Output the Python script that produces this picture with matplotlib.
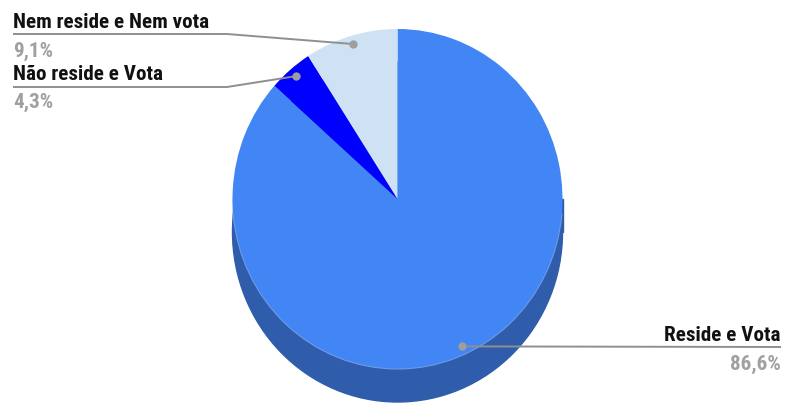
import numpy as np
import matplotlib.pyplot as plt
from matplotlib import font_manager
from matplotlib.patches import Ellipse, Rectangle, Arc

# --------------- data ---------------
labels = ['Reside e Vota', 'Não reside e Vota', 'Nem reside e Nem vota']
values = [86.6, 4.3, 9.1]
pct_labels = ['86,6%', '4,3%', '9,1%']
colors = ['#4285f4', '#0000ff', '#cfe2f3']
side_color = '#2f5dab'

# --------------- layout (pixels) ---------------
W, H = 786, 406
cx, cy = 397.5, 200.0     # centre of the top face
rx, ry = 165.0, 170.0     # radii of the top face
depth = 33.0              # thickness of the 3d side

# pick a narrow bold face if one is around
have = {f.name for f in font_manager.fontManager.ttflist}
fam = [f for f in ['Liberation Sans Narrow', 'Roboto Condensed', 'Roboto']
       if f in have] + ['DejaVu Sans']

fig = plt.figure(figsize=(W / 100, H / 100), dpi=100)

# pie axes: 1 data unit = rx px horizontally, ry px vertically
ax = fig.add_axes([0, 0, 1, 1])
ax.pie(values, colors=colors, startangle=90, counterclock=False,
       radius=1, center=(0, 0), wedgeprops=dict(linewidth=0))
ax.set_aspect('auto')
ax.set_xlim(-cx / rx, (W - cx) / rx)
ax.set_ylim(-(H - cy) / ry, cy / ry)
ax.axis('off')

d = depth / ry
ax.add_patch(Ellipse((0, -d), 2, 2, color=side_color, zorder=0))
ax.add_patch(Rectangle((-1, -d), 2, d, color=side_color, zorder=0))
ax.add_patch(Arc((0, 0), 2, 2, theta1=185, theta2=355, color='#6f9ae6',
                 lw=0.8, zorder=3))

# overlay in pixel coords for labels / leaders
lab = fig.add_axes([0, 0, 1, 1])
lab.set_xlim(0, W)
lab.set_ylim(H, 0)
lab.axis('off')
lab.patch.set_alpha(0)

# dot positions: mid angle of each wedge at 0.95 radius
frac = np.array(values) / sum(values)
ends = 90 - 360 * np.cumsum(frac)
starts = ends + 360 * frac
mids = np.radians((starts + ends) / 2)
dots = [(cx + 0.95 * rx * np.cos(a), cy - 0.95 * ry * np.sin(a)) for a in mids]

line_c = '#8f8f8f'
pct_c = '#a0a0a0'
fs = 13.8 if fam[0] == 'Roboto' else 15.2

# label positions: (x, baseline of label, line y, baseline of pct, align)
pos = [
    (781, 341, 348, 370, 'right'),
    (13, 80, 88, 108, 'left'),
    (13, 28, 35, 57, 'left'),
]

for i, (x, yb, yl, yp, ha) in enumerate(pos):
    dx, dy = dots[i]
    lab.text(x, yb, labels[i], ha=ha, va='baseline', fontsize=fs,
             fontweight='bold', color='#111111', family=fam)
    lab.text(x, yp, pct_labels[i], ha=ha, va='baseline', fontsize=fs,
             fontweight='bold', color=pct_c, family=fam)
    if ha == 'left':
        lab.plot([x, 227, dx], [yl, yl, dy], color=line_c, lw=1.4,
                 solid_capstyle='butt')
    else:
        lab.plot([x, dx], [yl, dy], color=line_c, lw=1.4,
                 solid_capstyle='butt')
    lab.plot(dx, dy, 'o', color='#9e9e9e', ms=6, mec='none')

fig.savefig('out.png', dpi=100)
